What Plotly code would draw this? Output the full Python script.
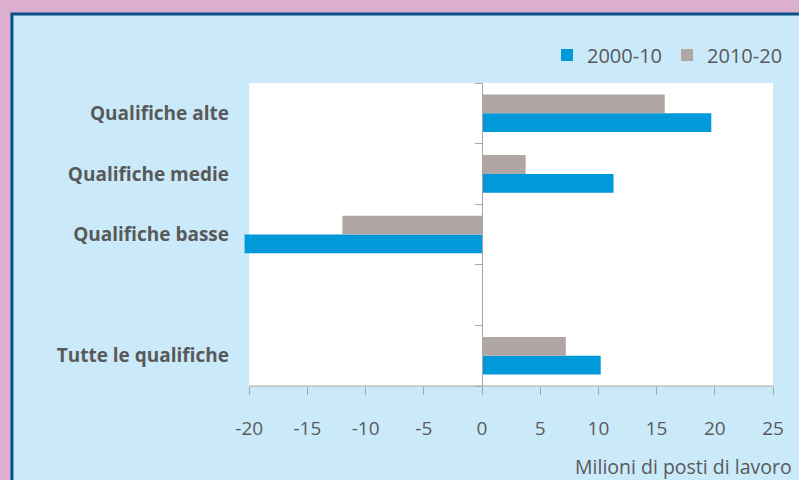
import plotly.graph_objects as go

# Categories (top to bottom as in the chart); " " is the empty spacer row
categories = ["Qualifiche alte", "Qualifiche medie", "Qualifiche basse", " ", "Tutte le qualifiche"]
series_2000_10 = [19.7, 11.3, -20.4, None, 10.2]
series_2010_20 = [15.7, 3.75, -12.0, None, 7.2]
x_ticks = [-20, -15, -10, -5, 0, 5, 10, 15, 20, 25]
x_tick_labels = ["-20", "-15", "-10", "-5", "0", "5", "10", "15", "20", "25"]

BLUE = "#0099d9"
GRAY = "#b0a7a4"
TXT = "#595959"
AX = "#a6a6a6"
FONT = "Open Sans"

order_bottom_up = list(reversed(categories))

fig = go.Figure()
fig.add_trace(go.Bar(name="2000-10", y=categories, x=series_2000_10, orientation="h",
                     marker=dict(color=BLUE, line=dict(width=0)), yaxis="y"))
fig.add_trace(go.Bar(name="2010-20", y=categories, x=series_2010_20, orientation="h",
                     marker=dict(color=GRAY, line=dict(width=0)), yaxis="y"))
# invisible helper trace so the zero-axis (y2) knows the categories
fig.add_trace(go.Scatter(x=[0] * len(categories), y=categories, yaxis="y2", mode="markers",
                         marker=dict(opacity=0), showlegend=False, hoverinfo="skip"))

xmin, xmax = -20.45, 25
zero_pos = (0 - xmin) / (xmax - xmin)

L, R, T, B = 244, 25, 83, 94
W, H = 799, 480
pw = W - L - R
ph = H - T - B

def px_x(p):
    return (p - L) / pw

def px_y(p):
    return (H - B - p) / ph

fig.update_layout(
    width=W, height=H, autosize=False,
    margin=dict(l=L, r=R, t=T, b=B, pad=0),
    paper_bgcolor="#dcaed0",
    plot_bgcolor="rgba(0,0,0,0)",
    barmode="group", bargap=0.38, bargroupgap=0,
    font=dict(family=FONT, color=TXT, size=19),
    xaxis=dict(range=[xmin, xmax], tickvals=x_ticks, ticktext=x_tick_labels,
               ticks="outside", ticklen=8,
               tickcolor=AX, tickwidth=1, showline=False, zeroline=False, showgrid=False,
               tickfont=dict(size=19, color=TXT), ticklabelstandoff=17),
    yaxis=dict(type="category", categoryorder="array", categoryarray=order_bottom_up,
               range=[-0.5, 4.5], ticks="", showline=False, showgrid=False, zeroline=False,
               tickfont=dict(size=19, color=TXT, family=FONT, weight="bold"),
               ticklabelstandoff=14),
    yaxis2=dict(type="category", categoryorder="array", categoryarray=order_bottom_up,
                range=[-0.5, 4.5], overlaying="y", anchor="free", position=zero_pos,
                side="left", showticklabels=False, ticks="outside", tickson="boundaries",
                ticklen=7, tickcolor=AX, showline=True, linecolor=AX, linewidth=1,
                showgrid=False, zeroline=False),
    legend=dict(orientation="h", xanchor="right", yanchor="middle",
                x=px_x(788), y=px_y(55), font=dict(size=20, color=TXT),
                bgcolor="rgba(0,0,0,0)", traceorder="normal", itemwidth=30),
    showlegend=True,
    shapes=[
        dict(type="rect", xref="paper", yref="paper", layer="below",
             x0=px_x(11.5), x1=1.2, y0=-0.6, y1=px_y(14),
             fillcolor="#caeafa", line=dict(color="#0b4f87", width=3)),
        dict(type="rect", xref="x", yref="paper", layer="below",
             x0=-20, x1=25, y0=0, y1=1, fillcolor="white", line=dict(width=0)),
        dict(type="line", xref="x", yref="paper", layer="above",
             x0=-20, x1=25, y0=0, y1=0, line=dict(color=AX, width=1)),
    ],
    annotations=[
        dict(text="Milioni di posti di lavoro", xref="paper", yref="paper",
             x=px_x(795), y=px_y(466), xanchor="right", yanchor="middle",
             showarrow=False, font=dict(size=19.5, color=TXT)),
    ],
)

fig.write_html("out.html", config={"displayModeBar": False},
               post_script="document.body.style.margin='0';document.body.style.overflow='hidden';")
